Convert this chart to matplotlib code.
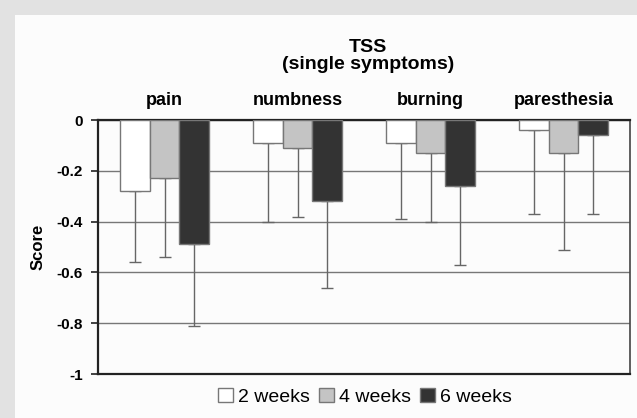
import matplotlib
matplotlib.use('Agg')
import matplotlib.pyplot as plt
import numpy as np
from matplotlib.patches import Rectangle

plt.rcParams['font.family'] = ['Liberation Sans', 'DejaVu Sans']

categories = ['pain', 'numbness', 'burning', 'paresthesia']
series = ['2 weeks', '4 weeks', '6 weeks']
means = {
    '2 weeks': [-0.28, -0.09, -0.09, -0.04],
    '4 weeks': [-0.23, -0.11, -0.13, -0.13],
    '6 weeks': [-0.49, -0.32, -0.26, -0.06],
}
errs = {
    '2 weeks': [0.28, 0.31, 0.30, 0.33],
    '4 weeks': [0.31, 0.27, 0.27, 0.38],
    '6 weeks': [0.32, 0.34, 0.31, 0.31],
}
colors = ['#ffffff', '#c4c4c4', '#333333']
yticks = [0, -0.2, -0.4, -0.6, -0.8, -1]
ytick_labels = ['0', '-0.2', '-0.4', '-0.6', '-0.8', '-1']

W, H = 637, 418
fig = plt.figure(figsize=(W / 100, H / 100), dpi=100)
fig.patch.set_facecolor('#e2e2e2')
fig.add_artist(Rectangle((15 / W, 0), 1, 1 - 15 / H, transform=fig.transFigure,
                         facecolor='#fcfcfc', edgecolor='none', zorder=-1))

ax = fig.add_axes([98 / W, 1 - 374 / H, (630 - 98) / W, (374 - 120) / H])
ax.set_facecolor('#fcfcfc')

x = np.arange(len(categories))
bw = 0.225
for i, s in enumerate(series):
    pos = x + (i - 1) * bw
    ax.bar(pos, means[s], bw, color=colors[i], edgecolor='#777777', linewidth=1.0,
           label=s, zorder=3)
    ax.errorbar(pos, means[s], yerr=[errs[s], [0] * len(categories)], fmt='none',
                ecolor='#666666', elinewidth=1.0, capsize=4, capthick=1.0, zorder=2)

ax.set_ylim(-1, 0)
ax.set_xlim(-0.5, len(categories) - 0.5)
ax.set_yticks(yticks)
ax.set_yticklabels(ytick_labels, fontsize=11, fontweight='bold')
ax.yaxis.grid(True, color='#777777', linewidth=1.0, zorder=0)
ax.set_axisbelow(True)
ax.tick_params(axis='y', length=5, width=1.2, color='#222222', pad=6)

ax.xaxis.tick_top()
ax.set_xticks(x)
ax.set_xticklabels(categories, fontsize=13, fontweight='bold')
ax.tick_params(axis='x', length=0, pad=8)

ax.set_ylabel('Score', fontsize=12, fontweight='bold', labelpad=8)

for side in ['left', 'bottom', 'top']:
    ax.spines[side].set_color('#222222')
    ax.spines[side].set_linewidth(1.6)
ax.spines['right'].set_color('#444444')
ax.spines['right'].set_linewidth(1.2)

fig.text(368 / W, 1 - 56 / H, 'TSS\n(single symptoms)', ha='center', va='center',
         fontsize=14, fontweight='bold', linespacing=1.0)

leg = fig.legend(loc='center', bbox_to_anchor=(365 / W, 1 - 397 / H), ncol=3, frameon=False,
                 fontsize=14, handlelength=0.75, handleheight=0.75, handletextpad=0.25,
                 columnspacing=0.5)

fig.savefig('out.png', dpi=100, facecolor=fig.get_facecolor())
